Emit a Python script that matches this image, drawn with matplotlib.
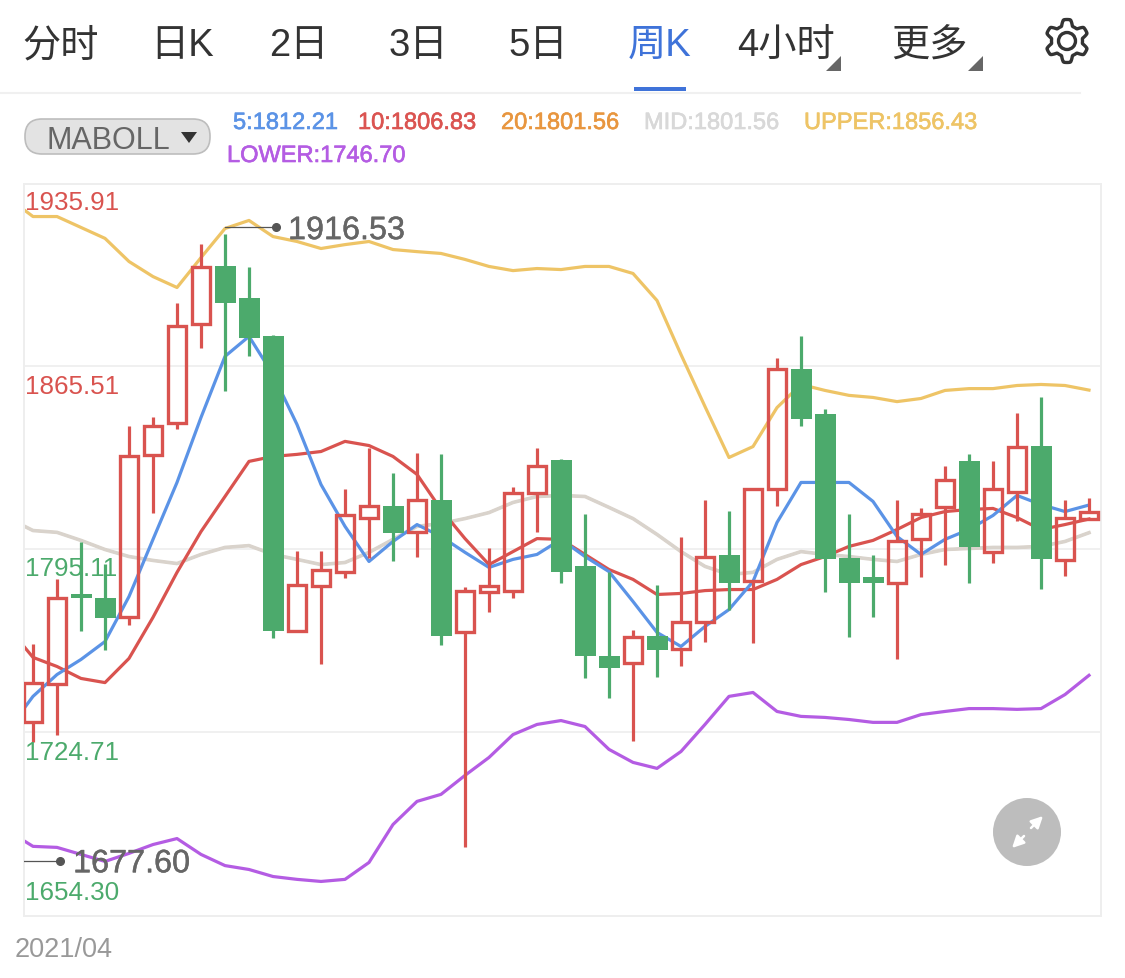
import numpy as np
import matplotlib
matplotlib.use('Agg')
import matplotlib.pyplot as plt
import matplotlib.patheffects as pe
from matplotlib.patches import Circle, FancyBboxPatch, Polygon, Rectangle

plt.rcParams['font.family'] = ['Liberation Sans', 'DejaVu Sans']
CJK = ['Liberation Sans', 'Noto Sans CJK SC']

RED = '#d9534f'
GREEN = '#4caa6c'

# candles: open, high, low, close
opens = [1728.6, 1743.2, 1777.8, 1776.6, 1769.0, 1831.3, 1843.6, 1881.7, 1904.0, 1891.7, 1877.4, 1763.6, 1780.9, 1786.3, 1807.4,
         1811.7, 1802.0, 1814.3, 1763.2, 1778.6, 1779.3, 1817.0, 1829.7, 1788.6, 1754.3, 1751.3, 1762.0, 1757.0, 1767.4, 1792.8,
         1782.8, 1818.2, 1864.7, 1847.1, 1791.7, 1784.7, 1782.4, 1799.0, 1811.3, 1829.0, 1794.0, 1817.4, 1835.1, 1790.9, 1806.7]
highs = [1758.6, 1783.6, 1797.8, 1789.7, 1842.8, 1845.9, 1889.8, 1912.8, 1916.53, 1903.6, 1877.8, 1794.7, 1794.7, 1818.2, 1834.0,
         1824.7, 1832.4, 1831.7, 1780.5, 1795.5, 1819.0, 1834.0, 1830.1, 1808.6, 1786.6, 1764.0, 1781.3, 1800.1, 1814.0, 1810.1,
         1818.2, 1868.6, 1877.1, 1849.0, 1808.6, 1792.8, 1814.0, 1810.9, 1827.4, 1831.7, 1829.0, 1847.8, 1853.6, 1814.3, 1815.1]
lows = [1721.2, 1723.9, 1763.6, 1756.3, 1765.9, 1809.0, 1841.3, 1872.8, 1855.9, 1869.7, 1760.9, 1763.6, 1750.9, 1784.0, 1792.0,
        1790.5, 1792.4, 1758.2, 1680.5, 1770.9, 1776.3, 1801.7, 1782.4, 1745.5, 1737.8, 1721.6, 1745.9, 1750.1, 1759.7, 1772.0,
        1759.0, 1812.0, 1842.8, 1778.6, 1761.6, 1769.3, 1752.8, 1784.7, 1789.0, 1782.4, 1790.1, 1805.9, 1780.1, 1785.1, 1806.7]
closes = [1743.9, 1776.6, 1776.3, 1768.6, 1830.9, 1842.8, 1880.9, 1903.6, 1890.1, 1876.3, 1763.6, 1781.6, 1787.4, 1808.2, 1812.0,
          1801.3, 1814.0, 1762.0, 1779.3, 1780.9, 1817.0, 1827.4, 1786.6, 1754.0, 1749.7, 1761.3, 1756.6, 1767.4, 1792.4, 1782.4,
          1818.2, 1864.7, 1845.5, 1791.3, 1782.4, 1782.4, 1798.2, 1808.6, 1822.0, 1795.9, 1818.2, 1834.7, 1791.3, 1807.4, 1809.7]

# indicator lines start one bar before the first candle, it gets clipped by the frame
ma5 = [1726.2, 1738.6, 1747.0, 1752.8, 1759.7, 1777.0, 1799.0, 1820.9, 1845.9, 1869.4, 1877.1, 1862.4, 1843.2, 1820.1, 1804.0, 1790.5,
       1798.2, 1804.7, 1800.1, 1794.0, 1788.2, 1791.3, 1793.2, 1799.0, 1792.4, 1786.6, 1775.1, 1763.2, 1757.8, 1765.5, 1772.0,
       1782.8, 1805.5, 1820.9, 1820.9, 1820.9, 1813.6, 1800.1, 1793.2, 1799.0, 1802.8, 1808.2, 1815.9, 1812.4, 1809.7, 1812.21]
ma10 = [1764.7, 1753.6, 1750.1, 1745.5, 1743.9, 1753.2, 1769.0, 1786.3, 1802.0, 1815.5, 1829.0, 1830.9, 1831.7, 1832.8, 1836.7, 1835.1,
        1830.9, 1824.0, 1810.5, 1799.3, 1789.3, 1794.3, 1799.3, 1799.0, 1793.2, 1787.4, 1783.6, 1777.8, 1778.2, 1779.3, 1779.7,
        1779.7, 1783.6, 1789.3, 1792.4, 1796.3, 1798.6, 1802.8, 1807.4, 1809.7, 1810.5, 1810.9, 1807.4, 1802.8, 1804.7, 1806.83]
mid = [1807.0, 1802.4, 1801.7, 1798.6, 1795.1, 1792.4, 1790.9, 1789.7, 1793.2, 1795.9, 1796.6, 1793.2, 1791.3, 1789.3, 1790.1, 1794.0,
       1799.0, 1804.0, 1805.1, 1807.0, 1809.3, 1813.2, 1815.5, 1815.9, 1815.5, 1811.3, 1807.0, 1800.9, 1794.3, 1788.6, 1785.5,
       1786.3, 1791.3, 1794.3, 1793.2, 1792.4, 1791.3, 1790.5, 1793.2, 1795.1, 1795.5, 1795.9, 1795.9, 1796.3, 1798.2, 1801.56]
upper = [1930.1, 1923.2, 1923.2, 1919.0, 1914.8, 1905.9, 1900.1, 1895.9, 1907.4, 1918.6, 1921.7, 1915.5, 1913.6, 1910.9, 1912.4, 1913.6,
         1910.5, 1909.7, 1909.0, 1906.7, 1904.0, 1902.4, 1903.2, 1902.8, 1904.0, 1904.0, 1901.3, 1890.9, 1870.1, 1850.1, 1830.5,
         1834.7, 1849.7, 1858.6, 1856.3, 1854.4, 1853.6, 1852.0, 1853.2, 1856.3, 1857.0, 1857.0, 1858.2, 1858.6, 1858.2, 1856.43]
lower = [1686.6, 1680.9, 1680.5, 1677.8, 1675.1, 1678.2, 1681.6, 1683.9, 1677.8, 1673.5, 1672.0, 1669.3, 1668.2, 1667.4, 1668.2, 1674.7,
         1689.3, 1698.2, 1700.9, 1708.2, 1715.1, 1723.9, 1727.8, 1729.3, 1727.0, 1718.2, 1713.2, 1710.9, 1717.4, 1727.8, 1738.6,
         1740.1, 1732.8, 1730.9, 1730.5, 1729.7, 1728.6, 1728.6, 1731.6, 1732.8, 1733.9, 1733.9, 1733.6, 1733.9, 1739.3, 1746.70]

tabs = ['分时', '日K', '2日', '3日', '5日', '周K', '4小时', '更多']
tab_x = [61, 182, 299, 418, 538, 660, 786, 929]
legend1 = ['5:1812.21', '10:1806.83', '20:1801.56', 'MID:1801.56', 'UPPER:1856.43']
legend1_x = [233, 358, 501, 644, 804]
legend1_c = ['#5b93e6', '#db5451', '#e8963f', '#d8d8d8', '#eec466']
y_ticks = [1935.91, 1865.51, 1795.11, 1724.71, 1654.30]
y_tick_c = [RED, RED, GREEN, GREEN, GREEN]
y_tick_dy = [-19, -20, -19, -20, 23]
max_label = '1916.53'
min_label = '1677.60'

fig = plt.figure(figsize=(11.25, 9.79), dpi=100, facecolor='white')
W, H = 1125, 979


def bold(c, w=0.45):
    # reference text is a bit heavier than Liberation regular
    return [pe.withStroke(linewidth=w, foreground=c)]


# main chart, frame is 24..1101 x 184..916 px
ax = fig.add_axes([24 / W, 1 - 916.5 / H, (1101 - 24) / W, (916 - 184) / H])
ax.set_xlim(-0.375, 44.5)
ax.set_ylim(y_ticks[-1], y_ticks[0])
ax.set_xticks([])
ax.set_yticks(y_ticks[1:-1])
ax.tick_params(axis='y', length=0, labelleft=False)
ax.grid(axis='y', color='#f0f0f0', lw=1.4)
ax.set_axisbelow(True)
for s in ax.spines.values():
    s.set_color('#eeeeee')
    s.set_linewidth(1.4)

xl = np.arange(-1, 45)
ax.plot(xl, upper, color='#eec466', lw=2.3, zorder=2)
ax.plot(xl, lower, color='#b45ce3', lw=2.3, zorder=2)
ax.plot(xl, mid, color='#e8963f', lw=1.6, zorder=2)
ax.plot(xl, mid, color='#d9d3cc', lw=2.6, zorder=2)
ax.plot(xl, ma10, color=RED, lw=2.3, zorder=2)
ax.plot(xl, ma5, color='#5b93e6', lw=2.3, zorder=2)

for i in range(len(opens)):
    top = max(opens[i], closes[i])
    bot = min(opens[i], closes[i])
    if closes[i] >= opens[i]:
        ax.plot([i, i], [top, highs[i]], color=RED, lw=2.3, zorder=3, solid_capstyle='butt')
        ax.plot([i, i], [bot, lows[i]], color=RED, lw=2.3, zorder=3, solid_capstyle='butt')
        ax.bar(i, top - bot, bottom=bot, width=0.73, facecolor='none', edgecolor=RED, lw=2.4, zorder=3)
    else:
        ax.plot([i, i], [lows[i], highs[i]], color=GREEN, lw=2.3, zorder=3, solid_capstyle='butt')
        ax.bar(i, top - bot, bottom=bot, width=0.875, color=GREEN, lw=0, zorder=3)

for val, c, dy in zip(y_ticks, y_tick_c, y_tick_dy):
    ax.annotate(f'{val:.2f}', xy=(0, val), xycoords=ax.get_yaxis_transform(), xytext=(1, dy),
                textcoords='offset pixels', color=c, fontsize=18.7, va='center', ha='left', zorder=5)

# max / min markers
ax.plot([8, 10.125], [1919.0, 1919.0], color='#555555', lw=0.9, zorder=4)
ax.plot([10.125], [1919.0], 'o', color='#555555', ms=5.5, zorder=4)
ax.text(10.625, 1917.6, max_label, color='#666666', fontsize=23.3, va='center', ha='left', zorder=5,
        path_effects=bold('#666666', 0.3))
ax.plot([-0.375, 1.125], [1675.4, 1675.4], color='#555555', lw=0.9, zorder=4)
ax.plot([1.125], [1675.4], 'o', color='#555555', ms=5.5, zorder=4)
ax.text(1.67, 1674.0, min_label, color='#666666', fontsize=23.3, va='center', ha='left', zorder=5,
        path_effects=bold('#666666', 0.3))

# everything around the chart in pixel coords
ov = fig.add_axes([0, 0, 1, 1], facecolor='none')
ov.set_xlim(0, W)
ov.set_ylim(H, 0)
ov.axis('off')

for t, x in zip(tabs, tab_x):
    c = '#3f73d9' if t == '周K' else '#333333'
    ov.text(x, 46, t, family=CJK, fontsize=27.5, color=c, ha='center', va='center')
ov.add_patch(Rectangle((634, 88), 52, 4, color='#3f73d9', lw=0))
ov.plot([0, 1080], [93.5, 93.5], color='#f0f0f0', lw=1.5)
ov.add_patch(Polygon([(841, 57), (841, 72), (826, 72)], color='#666666', lw=0))
ov.add_patch(Polygon([(983, 57), (983, 72), (968, 72)], color='#666666', lw=0))

# gear icon, six teeth with one pointing up
ang = np.linspace(0, 2 * np.pi, 145)
rad = 18.5 + 3.0 * np.clip(1.8 * np.cos(6 * ang + np.pi), -1, 1)
ov.add_patch(Polygon(np.c_[1067 + rad * np.cos(ang), 42 + rad * np.sin(ang)], fill=False, edgecolor='#333333', lw=2.4, joinstyle='round'))
ov.add_patch(Circle((1067, 42), 8.5, fill=False, edgecolor='#333333', lw=2.4))

ov.add_patch(FancyBboxPatch((25, 120), 185, 35, boxstyle='round,pad=0,rounding_size=17',
                            facecolor='#e3e3e3', edgecolor='#bdbdbd', lw=1.2))
ov.text(108, 141, 'MABOLL', fontsize=22, color='#666666', ha='center', va='center')
ov.add_patch(Polygon([(181, 133), (197, 133), (189, 144)], color='#333333', lw=0))

for t, x, c in zip(legend1, legend1_x, legend1_c):
    ov.text(x, 124, t, color=c, fontsize=17, ha='left', va='center', path_effects=bold(c))
ov.text(227, 157, 'LOWER:1746.70', color='#b45ce3', fontsize=17, ha='left', va='center', path_effects=bold('#b45ce3'))
ov.text(15, 950, '2021/04', color='#999999', fontsize=19.5, ha='left', va='center')

# expand button
ov.add_patch(Circle((1027, 833), 34, color='#bdbdbd', lw=0))
for p0, p1 in [((1024, 837), (1012, 849)), ((1031, 829), (1043, 817))]:
    ov.annotate('', xy=p1, xytext=p0, arrowprops=dict(arrowstyle='-|>,head_length=0.7,head_width=0.35', color='white', lw=1.8,
                                                      mutation_scale=10, shrinkA=0, shrinkB=0))

fig.savefig('out.png', dpi=100)
